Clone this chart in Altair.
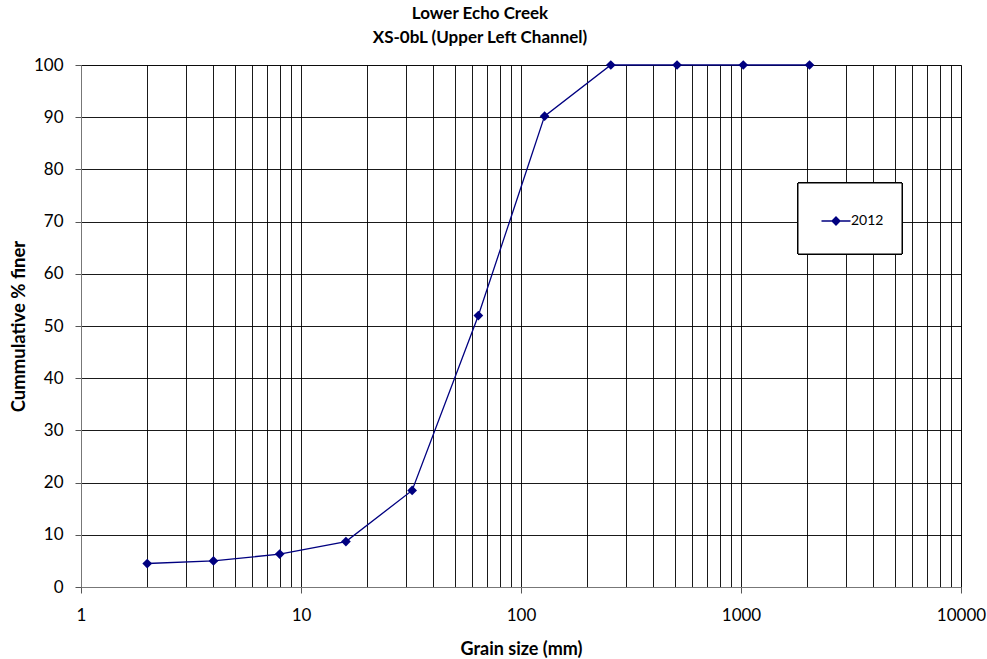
import json
import altair as alt
import pandas as pd

# Grain-size distribution, cumulative percent finer by sieve size
title_lines = ["Lower Echo Creek", "XS-0bL (Upper Left Channel)"]
series_name = "2012"
grain_size_mm = [2, 4, 8, 16, 32, 64, 128, 256, 512, 1024, 2048]
percent_finer = [4.5, 5.0, 6.3, 8.7, 18.5, 52.0, 90.2, 100, 100, 100, 100]
decade_ticks = [1, 10, 100, 1000, 10000]
y_ticks = list(range(0, 101, 10))

# log-cycle grid: every 1..9 multiple inside each decade
log_grid = [m * d for d in decade_ticks[:-1] for m in range(1, 10)] + [decade_ticks[-1]]

df = pd.DataFrame({"size": grain_size_mm, "finer": percent_finer, "series": series_name})

FONT = "Lato"
NAVY = "#000080"
is_decade = "indexof(%s, datum.value) >= 0" % json.dumps(decade_ticks)

x_enc = alt.X(
    "size:Q",
    scale=alt.Scale(type="log", domain=[1, 10000], nice=False),
    axis=alt.Axis(
        values=log_grid,
        title="Grain size (mm)",
        labelExpr=f"{is_decade} ? format(datum.value, 'd') : ''",
        labelFlush=False,
        labelOverlap=False,
        tickOpacity={"condition": {"test": is_decade, "value": 1}, "value": 0},
        tickSize=6,
        tickColor="#555555",
        labelPadding=14,
        labelFontSize=17,
        titleFontSize=18,
        titlePadding=17,
        grid=True,
        gridColor="#000000",
        gridWidth=0.9,
        domainColor="#777777",
    ),
)
y_enc = alt.Y(
    "finer:Q",
    scale=alt.Scale(domain=[0, 100], nice=False),
    axis=alt.Axis(
        values=y_ticks,
        title="Cummulative % finer",
        labelFlush=False,
        tickSize=6,
        tickColor="#555555",
        labelPadding=12,
        labelFontSize=17,
        titleFontSize=18.5,
        titlePadding=5,
        grid=True,
        gridColor="#000000",
        gridWidth=0.9,
        domainColor="#777777",
    ),
)

line = alt.Chart(df).mark_line(color=NAVY, strokeWidth=1.3).encode(x=x_enc, y=y_enc)

points = alt.Chart(df).mark_point(shape="diamond", filled=True, size=95, opacity=1).encode(
    x="size:Q",
    y="finer:Q",
    color=alt.Color(
        "series:N",
        scale=alt.Scale(domain=[series_name], range=[NAVY]),
        legend=alt.Legend(
            title=None,
            orient="none",
            legendX=744,
            legendY=145,
            symbolType="M-1.45,0H1.45M0,-0.4L0.4,0L0,0.4L-0.4,0Z",
            symbolSize=400,
            symbolStrokeColor=NAVY,
            symbolFillColor=NAVY,
            symbolStrokeWidth=1.3,
            labelFontSize=14,
            labelOffset=4,
        ),
    ),
)

# white legend frame
legend_box = alt.Chart(df).mark_rect(fill="white", stroke="black", strokeWidth=1).encode(
    x=alt.value(717), x2=alt.value(821), y=alt.value(118), y2=alt.value(189)
)

chart = (
    alt.layer(line, legend_box, points)
    .properties(
        width=880,
        height=522,
        title=alt.Title(title_lines, fontSize=17, fontWeight="bold", font=FONT, anchor="middle", dx=-41, offset=9, lineHeight=24),
        autosize=alt.AutoSizeParams(type="none"),
        padding={"left": 81, "top": 65, "right": 26, "bottom": 72},
    )
    .configure(font=FONT)
    .configure_axis(labelFont=FONT, titleFont=FONT, titleFontWeight="bold", labelColor="black", titleColor="black")
    .configure_legend(labelFont=FONT, labelColor="black")
    .configure_view(stroke="#777777")
)

chart.save("out.html", embed_options={"renderer": "svg", "actions": False})
